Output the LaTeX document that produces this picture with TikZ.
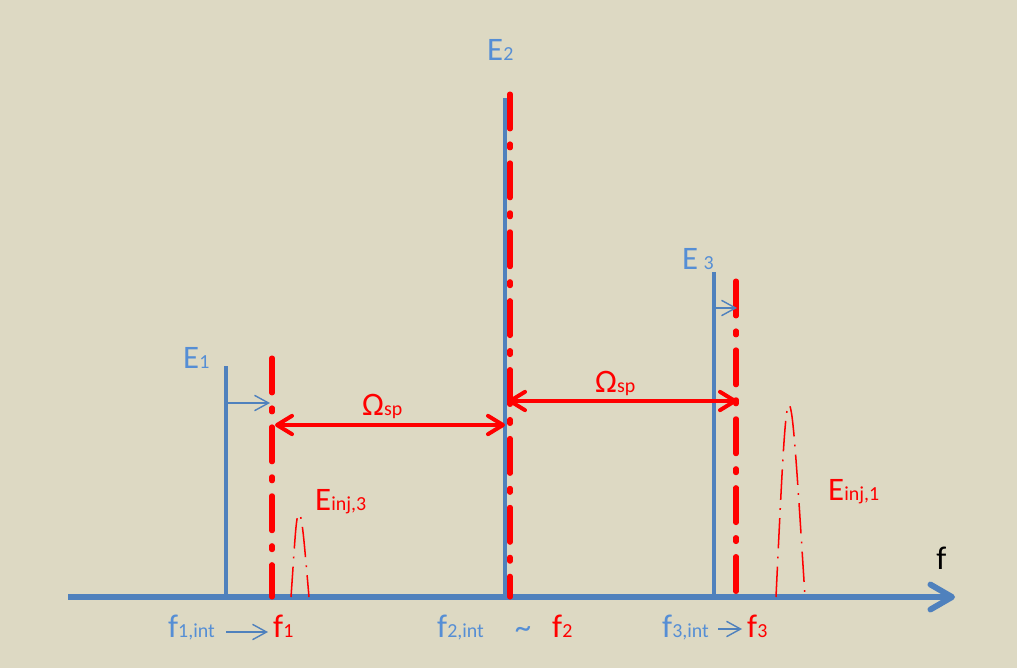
\documentclass[tikz,border=0pt]{standalone}
\usepackage{fontspec}
\setmainfont{Carlito}
\usetikzlibrary{arrows.meta}
\definecolor{paper}{HTML}{DDD9C3}
\definecolor{lineblue}{HTML}{4F81BD}
\definecolor{textblue}{HTML}{558ED5}
\newcommand{\lowidx}[1]{{\fontsize{17}{19}\selectfont #1}}
\tikzset{spike/.style={draw=lineblue,line width=3.4pt},
 shifted/.style={draw=red,line width=4.3pt,line cap=round,dash pattern=on 29.8pt off 12.8pt on 3.4pt off 12.8pt},
 inj/.style={draw=red,line width=1.3pt,dash pattern=on 26pt off 7pt on 1.5pt off 7pt},
 axis/.style={draw=lineblue,line width=5pt,-{Straight Barb[length=6.5mm,width=7.5mm,round]}},
 gap/.style={draw=red,line width=3.4pt,{Straight Barb[length=4.5mm,width=5.5mm,round]}-{Straight Barb[length=4.5mm,width=5.5mm,round]}},
 nudge/.style={draw=lineblue,line width=1.2pt,-{Straight Barb[length=4.2mm,width=4.6mm]}},
 bluelbl/.style={text=textblue,font=\fontsize{28}{32}\selectfont,inner sep=0pt,anchor=base west},
 redlbl/.style={bluelbl,text=red}}

\begin{document}
\begin{tikzpicture}[x=0.03cm,y=-0.03cm]
\fill[paper] (0,0) rectangle (1017,668);
\useasboundingbox (0,0) rectangle (1017,668);

% frequency axis
\coordinate (o) at (68,597);
\coordinate (fend) at (955,597);
\draw[axis] (o) -- (fend);

% free running lines
\coordinate (e1b) at (226,597); \coordinate (e1t) at (226,366);
\coordinate (e2b) at (505,597); \coordinate (e2t) at (505,98);
\coordinate (e3b) at (714,597); \coordinate (e3t) at (714,272);
\draw[spike] (e1b) -- (e1t);
\draw[spike] (e2b) -- (e2t);
\draw[spike] (e3b) -- (e3t);

% locked lines
\coordinate (f1b) at (272,597); \coordinate (f1t) at (272,358);
\coordinate (f2b) at (510,597); \coordinate (f2t) at (510,94);
\coordinate (f3b) at (736,597); \coordinate (f3t) at (736,281);
\draw[shifted] (f1t) -- (f1b);
\draw[shifted] (f2t) -- (f2b);
\draw[shifted] (f3t) -- (f3b);

% pulling
\coordinate (p1s) at (228,403); \coordinate (p1e) at (270,403);
\coordinate (p3s) at (716,308); \coordinate (p3e) at (737,308);
\draw[nudge] (p1s) -- (p1e);
\draw[nudge] (p3s) -- (p3e);

% spacing
\coordinate (g1l) at (275,425); \coordinate (g1r) at (505,425);
\coordinate (g2l) at (508,401); \coordinate (g2r) at (737,401);
\draw[gap] (g1l) -- (g1r);
\draw[gap] (g2l) -- (g2r);

% injected tones
\coordinate (i3l) at (291,597); \coordinate (i3p) at (299,514); \coordinate (i3r) at (309,597);
\coordinate (i1l) at (776,597); \coordinate (i1p) at (789,405); \coordinate (i1r) at (805,597);
\draw[inj] (i3l) .. controls (295,540) and (296,514) .. (i3p) .. controls (302,514) and (304,540) .. (i3r);
\draw[inj] (i1l) .. controls (782,470) and (785,405) .. (i1p) .. controls (793,405) and (797,470) .. (i1r);

\node[bluelbl] (le1) at (183,368) {E\lowidx{1}};
\node[bluelbl] (le2) at (487,60) {E\lowidx{2}};
\node[bluelbl] (le3) at (682,269) {E\,\lowidx{3}};
\node[redlbl] (om1) at (362,415) {Ω\lowidx{sp}};
\node[redlbl] (om2) at (595,392) {Ω\lowidx{sp}};
\node[redlbl] (inj3) at (315,510) {E\lowidx{inj,3}};
\node[redlbl] (inj1) at (828,500) {E\lowidx{inj,1}};
\node[bluelbl,text=black] (fl) at (936,569) {f};

\node[bluelbl] (f1int) at (168,637) {f\lowidx{1,int}};
\node[redlbl] (f1) at (273,637) {f\lowidx{1}};
\node[bluelbl] (f2int) at (437,637) {f\lowidx{2,int}};
\node[text=textblue,font=\fontsize{28}{32}\selectfont,inner sep=0pt] (tl) at (523,633) {\textasciitilde};
\node[redlbl] (f2) at (552,637) {f\lowidx{2}};
\node[bluelbl] (f3int) at (662,637) {f\lowidx{3,int}};
\node[redlbl] (f3) at (747,637) {f\lowidx{3}};

\coordinate (b1s) at (226,632); \coordinate (b1e) at (268,632);
\coordinate (b3s) at (718,629); \coordinate (b3e) at (742,629);
\draw[nudge] (b1s) -- (b1e);
\draw[nudge] (b3s) -- (b3e);
\end{tikzpicture}
\end{document}
